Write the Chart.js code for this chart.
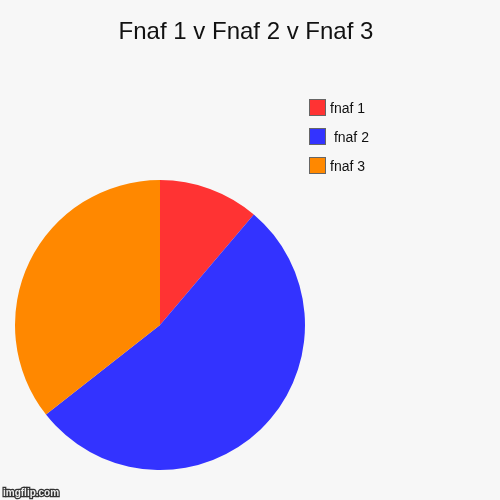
<!DOCTYPE html>
<html>
<head>
<meta charset="utf-8">
<script src="https://cdn.jsdelivr.net/npm/chart.js@4"></script>
<style>
  html, body { margin: 0; padding: 0; background: #f7f7f7; }
  canvas { display: block; }
</style>
</head>
<body>
<canvas id="myChart" width="500" height="500"></canvas>
<script>
const title = "Fnaf 1 v Fnaf 2 v Fnaf 3";
const labels = ["fnaf 1", " fnaf 2", "fnaf 3"];
const values = [11.2, 53.2, 35.6];
const colors = ["#ff3333", "#3333ff", "#ff8800"];

const font = "'Liberation Sans', Arial, sans-serif";

// title, legend and watermark drawn on top like the imgflip layout
const extras = {
  id: "extras",
  beforeDraw(chart) {
    const c = chart.ctx;
    c.save();
    c.fillStyle = "#f7f7f7";
    c.fillRect(0, 0, chart.width, chart.height);
    c.restore();
  },
  afterDraw(chart) {
    const c = chart.ctx;
    c.save();
    c.fillStyle = "#111";
    c.font = "24px " + font;
    c.textAlign = "center";
    c.textBaseline = "alphabetic";
    c.fillText(title, 246, 39);

    const ds = chart.data.datasets[0];
    c.font = "14px " + font;
    c.textAlign = "left";
    chart.data.labels.forEach((lab, i) => {
      const y = 99 + i * 29;
      c.fillStyle = ds.backgroundColor[i];
      c.fillRect(309, y, 16, 16);
      c.strokeStyle = "#666";
      c.lineWidth = 1;
      c.strokeRect(309.5, y + 0.5, 16, 16);
      c.fillStyle = "#111";
      c.fillText(lab, 330, y + 14);
    });

    c.font = "bold 10px " + font;
    c.lineWidth = 2.5;
    c.strokeStyle = "#333";
    c.fillStyle = "#eee";
    c.strokeText("imgflip.com", 3, 496);
    c.fillText("imgflip.com", 3, 496);
    c.restore();
  }
};

new Chart(document.getElementById("myChart"), {
  type: "pie",
  data: {
    labels: labels,
    datasets: [{
      data: values,
      backgroundColor: colors,
      borderWidth: 0
    }]
  },
  options: {
    responsive: false,
    animation: false,
    layout: { padding: { left: 15, right: 195, top: 180, bottom: 30 } },
    plugins: {
      legend: { display: false },
      title: { display: false },
      tooltip: { enabled: false }
    }
  },
  plugins: [extras]
});
</script>
</body>
</html>
